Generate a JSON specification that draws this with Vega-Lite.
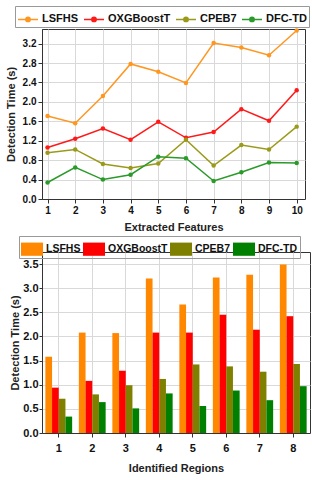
{
  "$schema": "https://vega.github.io/schema/vega-lite/v6.json",
  "padding": {"left": 4, "top": 5, "right": 3, "bottom": 3},
  "background": "white",
  "config": {
    "font": "Liberation Sans",
    "view": {"stroke": "#333", "strokeWidth": 1},
    "axis": {
      "labelFont": "Liberation Sans", "labelFontWeight": "bold", "labelFontSize": 10, "labelColor": "#111",
      "titleFont": "Liberation Sans", "titleFontWeight": "bold", "titleFontSize": 11, "titleColor": "#222",
      "gridColor": "#d9d9d9", "gridWidth": 1, "domainColor": "#333", "tickColor": "#333", "tickSize": 4
    },
    "legend": {
      "labelFont": "Liberation Sans", "labelFontWeight": "bold", "labelFontSize": 11, "labelColor": "#111",
      "strokeColor": "#999", "padding": 2, "columnPadding": 2, "labelOffset": 3
    }
  },
  "datasets": {
    "lines": [
      {"x": 1, "series": "LSFHS", "value": 1.71}, {"x": 2, "series": "LSFHS", "value": 1.56}, {"x": 3, "series": "LSFHS", "value": 2.12}, {"x": 4, "series": "LSFHS", "value": 2.78}, {"x": 5, "series": "LSFHS", "value": 2.62}, {"x": 6, "series": "LSFHS", "value": 2.39}, {"x": 7, "series": "LSFHS", "value": 3.21}, {"x": 8, "series": "LSFHS", "value": 3.12}, {"x": 9, "series": "LSFHS", "value": 2.96}, {"x": 10, "series": "LSFHS", "value": 3.47},
      {"x": 1, "series": "OXGBoostT", "value": 1.06}, {"x": 2, "series": "OXGBoostT", "value": 1.24}, {"x": 3, "series": "OXGBoostT", "value": 1.45}, {"x": 4, "series": "OXGBoostT", "value": 1.22}, {"x": 5, "series": "OXGBoostT", "value": 1.59}, {"x": 6, "series": "OXGBoostT", "value": 1.26}, {"x": 7, "series": "OXGBoostT", "value": 1.38}, {"x": 8, "series": "OXGBoostT", "value": 1.85}, {"x": 9, "series": "OXGBoostT", "value": 1.61}, {"x": 10, "series": "OXGBoostT", "value": 2.24},
      {"x": 1, "series": "CPEB7", "value": 0.95}, {"x": 2, "series": "CPEB7", "value": 1.02}, {"x": 3, "series": "CPEB7", "value": 0.72}, {"x": 4, "series": "CPEB7", "value": 0.64}, {"x": 5, "series": "CPEB7", "value": 0.73}, {"x": 6, "series": "CPEB7", "value": 1.22}, {"x": 7, "series": "CPEB7", "value": 0.69}, {"x": 8, "series": "CPEB7", "value": 1.11}, {"x": 9, "series": "CPEB7", "value": 1.02}, {"x": 10, "series": "CPEB7", "value": 1.49},
      {"x": 1, "series": "DFC-TD", "value": 0.34}, {"x": 2, "series": "DFC-TD", "value": 0.65}, {"x": 3, "series": "DFC-TD", "value": 0.40}, {"x": 4, "series": "DFC-TD", "value": 0.50}, {"x": 5, "series": "DFC-TD", "value": 0.87}, {"x": 6, "series": "DFC-TD", "value": 0.84}, {"x": 7, "series": "DFC-TD", "value": 0.37}, {"x": 8, "series": "DFC-TD", "value": 0.55}, {"x": 9, "series": "DFC-TD", "value": 0.75}, {"x": 10, "series": "DFC-TD", "value": 0.74}
    ],
    "bars": [
      {"region": "1", "series": "LSFHS", "value": 1.58}, {"region": "2", "series": "LSFHS", "value": 2.08}, {"region": "3", "series": "LSFHS", "value": 2.07}, {"region": "4", "series": "LSFHS", "value": 3.20}, {"region": "5", "series": "LSFHS", "value": 2.66}, {"region": "6", "series": "LSFHS", "value": 3.22}, {"region": "7", "series": "LSFHS", "value": 3.28}, {"region": "8", "series": "LSFHS", "value": 3.49},
      {"region": "1", "series": "OXGBoostT", "value": 0.94}, {"region": "2", "series": "OXGBoostT", "value": 1.08}, {"region": "3", "series": "OXGBoostT", "value": 1.29}, {"region": "4", "series": "OXGBoostT", "value": 2.08}, {"region": "5", "series": "OXGBoostT", "value": 2.08}, {"region": "6", "series": "OXGBoostT", "value": 2.45}, {"region": "7", "series": "OXGBoostT", "value": 2.14}, {"region": "8", "series": "OXGBoostT", "value": 2.42},
      {"region": "1", "series": "CPEB7", "value": 0.71}, {"region": "2", "series": "CPEB7", "value": 0.80}, {"region": "3", "series": "CPEB7", "value": 0.99}, {"region": "4", "series": "CPEB7", "value": 1.12}, {"region": "5", "series": "CPEB7", "value": 1.42}, {"region": "6", "series": "CPEB7", "value": 1.38}, {"region": "7", "series": "CPEB7", "value": 1.27}, {"region": "8", "series": "CPEB7", "value": 1.43},
      {"region": "1", "series": "DFC-TD", "value": 0.34}, {"region": "2", "series": "DFC-TD", "value": 0.64}, {"region": "3", "series": "DFC-TD", "value": 0.51}, {"region": "4", "series": "DFC-TD", "value": 0.82}, {"region": "5", "series": "DFC-TD", "value": 0.56}, {"region": "6", "series": "DFC-TD", "value": 0.88}, {"region": "7", "series": "DFC-TD", "value": 0.68}, {"region": "8", "series": "DFC-TD", "value": 0.97}
    ]
  },
  "resolve": {"legend": {"color": "independent"}, "scale": {"color": "independent"}},
  "spacing": 2,
  "columns": 1,
  "align": "none",
  "concat": [
    {
      "width": 263,
      "height": 170,
      "data": {"name": "lines"},
      "mark": {"type": "line", "strokeWidth": 1.5, "point": {"filled": true, "size": 20}},
      "encoding": {
        "x": {"field": "x", "type": "quantitative", "scale": {"domain": [0.8, 10.3], "nice": false, "zero": false},
              "axis": {"values": [1,2,3,4,5,6,7,8,9,10], "title": "Extracted Features", "titlePadding": 6, "grid": true, "tickSize": 4}},
        "y": {"field": "value", "type": "quantitative", "scale": {"domain": [0, 3.5], "nice": false},
              "axis": {"values": [0,0.4,0.8,1.2,1.6,2.0,2.4,2.8,3.2], "format": ".1f", "title": "Detection Time (s)", "titlePadding": 6}},
        "color": {"field": "series", "type": "nominal",
                  "scale": {"domain": ["LSFHS", "OXGBoostT", "CPEB7", "DFC-TD"], "range": ["#FF961F", "#FF1A1A", "#9A9A1A", "#2A9A2A"]},
                  "legend": {"title": null, "orient": "none", "direction": "horizontal", "legendX": -27, "legendY": -23,
                             "symbolType": "M-1,0H1M-0.22,0A0.22,0.22 0 1,0 0.22,0A0.22,0.22 0 1,0 -0.22,0Z", "symbolSize": 400, "symbolStrokeWidth": 1.5}}
      }
    },
    {
      "width": 268,
      "height": 181,
      "data": {"name": "bars"},
      "mark": {"type": "bar"},
      "encoding": {
        "x": {"field": "region", "type": "nominal", "sort": null, "scale": {"paddingInner": 0.2, "paddingOuter": 0.1},
              "axis": {"labelAngle": 0, "title": "Identified Regions", "titlePadding": 9, "labelPadding": 5, "labelFontSize": 11, "grid": true, "bandPosition": 0.5, "tickSize": 4}},
        "xOffset": {"field": "series", "type": "nominal", "sort": ["LSFHS", "OXGBoostT", "CPEB7", "DFC-TD"], "scale": {"paddingInner": 0, "paddingOuter": 0}},
        "y": {"field": "value", "type": "quantitative", "scale": {"domain": [0, 3.75], "nice": false},
              "axis": {"values": [0,0.5,1.0,1.5,2.0,2.5,3.0,3.5], "format": ".1f", "title": "Detection Time (s)", "titlePadding": 2, "labelPadding": 1, "labelFontSize": 11, "tickSize": 3}},
        "color": {"field": "series", "type": "nominal",
                  "scale": {"domain": ["LSFHS", "OXGBoostT", "CPEB7", "DFC-TD"], "range": ["#FF8800", "#FF0000", "#808000", "#008000"]},
                  "legend": {"title": null, "orient": "none", "direction": "horizontal", "legendX": -23, "legendY": -16, "labelFontSize": 10.5,
                             "symbolType": "M-1,-0.6H1V0.6H-1Z", "symbolSize": 484, "symbolStrokeWidth": 0}}
      }
    }
  ]
}
